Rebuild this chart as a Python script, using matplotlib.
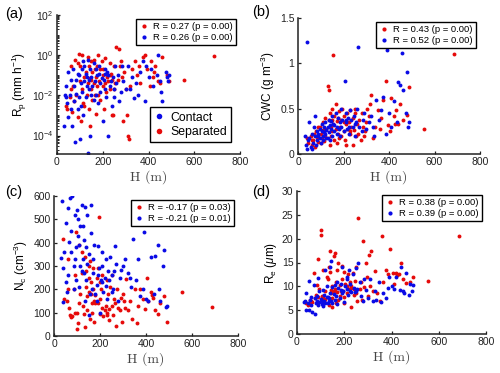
import math
import matplotlib
matplotlib.use("Agg")
import matplotlib.pyplot as plt
from matplotlib.lines import Line2D
from matplotlib.ticker import FixedLocator, FuncFormatter, LogLocator, NullFormatter

plt.rcParams['font.family'] = ['Liberation Sans', 'DejaVu Sans']
plt.rcParams['mathtext.fontset'] = 'custom'
plt.rcParams['mathtext.rm'] = 'Liberation Sans'
plt.rcParams['mathtext.it'] = 'Liberation Sans:italic'
plt.rcParams['mathtext.bf'] = 'Liberation Sans:bold'

# ---------------- data: Separated (red) ----------------
h_sep = [40, 45, 55, 60, 65, 70, 75, 80, 85, 90,
         95, 100, 100, 105, 110, 110, 115, 120, 125, 130,
         135, 135, 140, 140, 145, 145, 150, 150, 155, 155,
         160, 160, 165, 165, 170, 170, 175, 175, 180, 185,
         190, 190, 195, 200, 200, 205, 210, 210, 215, 220,
         225, 230, 230, 235, 240, 240, 245, 250, 255, 260,
         265, 270, 275, 280, 285, 290, 295, 300, 305, 310,
         315, 320, 330, 340, 350, 360, 365, 375, 385, 395,
         405, 410, 420, 425, 430, 440, 450, 460, 480, 490,
         555, 685, 60, 90, 120, 180, 200, 250, 150, 230]
rp_sep = [0.003, 0.002, 0.008, 0.3, 0.0015, 0.03, 0.005, 0.6, 0.01, 0.0008,
          1.2, 0.05, 0.3, 0.0005, 0.02, 1.0, 0.004, 0.08, 0.15, 0.01,
          0.04, 0.8, 0.002, 0.3, 0.07, 0.0003, 0.5, 0.02, 0.15, 0.006,
          0.04, 0.6, 0.01, 0.2, 0.0012, 0.08, 0.3, 0.03, 1.0, 0.05,
          0.2, 0.006, 0.5, 0.03, 0.1, 0.002, 0.04, 0.7, 0.015, 0.08,
          0.05, 0.4, 0.02, 0.12, 0.001, 0.06, 0.001, 0.3, 0.04, 2.5,
          0.06, 2.0, 0.3, 0.5, 0.08, 0.0005, 0.15, 0.02, 0.001, 0.0001,
          0.00007, 0.03, 0.2, 0.5, 0.1, 0.3, 0.04, 0.8, 1.0, 0.2,
          0.03, 0.5, 0.08, 0.15, 0.3, 0.05, 0.04, 0.8, 0.1, 0.05,
          0.06, 0.9, 0.02, 0.4, 0.003, 0.01, 0.2, 0.02, 0.06, 0.1]
cwc_sep = [0.18, 0.12, 0.2, 0.1, 0.15, 0.22, 0.08, 0.25, 0.19, 0.13,
           0.3, 0.12, 0.22, 0.18, 0.26, 0.35, 0.14, 0.2, 0.28, 0.75,
           0.71, 0.38, 0.1, 0.45, 0.3, 0.2, 0.5, 0.25, 1.09, 0.33,
           0.42, 0.15, 0.55, 0.28, 0.36, 0.12, 0.4, 0.22, 0.47, 0.3,
           0.38, 0.2, 0.5, 0.25, 0.42, 0.15, 0.33, 0.1, 0.45, 0.28,
           0.35, 0.48, 0.22, 0.3, 0.1, 0.4, 0.27, 0.5, 0.2, 0.33,
           0.22, 0.38, 0.15, 0.45, 0.3, 0.2, 0.25, 0.35, 0.5, 0.42,
           0.55, 0.65, 0.18, 0.3, 0.48, 0.28, 0.4, 0.6, 0.8, 0.32,
           0.25, 0.62, 0.42, 0.33, 0.48, 0.33, 0.55, 0.38, 0.43, 0.74,
           0.28, 1.1, 0.15, 0.3, 0.4, 0.18, 0.35, 0.45, 0.38, 0.25]
nc_sep = [415, 160, 150, 200, 120, 90, 80, 85, 200, 260,
          445, 30, 100, 55, 390, 140, 180, 270, 130, 95,
          340, 40, 280, 210, 170, 110, 250, 190, 75, 320,
          180, 230, 140, 100, 200, 290, 150, 60, 175, 250,
          140, 290, 510, 95, 160, 200, 120, 260, 85, 110,
          130, 100, 240, 180, 70, 115, 210, 260, 90, 160,
          140, 45, 200, 120, 110, 165, 60, 180, 150, 120,
          245, 110, 150, 75, 200, 55, 130, 200, 160, 115,
          250, 150, 190, 175, 165, 110, 95, 140, 170, 60,
          190, 125, 330, 100, 360, 140, 230, 130, 300, 90]
re_sep = [6.5, 6.0, 7.2, 7.0, 6.8, 12.8, 7.5, 8.2, 10.3, 15.8,
          9.5, 21.8, 20.7, 8.0, 7.5, 13.4, 7.0, 9.0, 12.0, 11.5,
          14.0, 6.0, 17.5, 13.0, 9.2, 8.5, 10.0, 5.7, 16.3, 9.0,
          17.0, 9.5, 11.0, 6.5, 13.5, 8.8, 14.8, 7.2, 10.2, 9.0,
          14.3, 11.5, 9.0, 7.8, 13.0, 10.5, 8.6, 10.0, 12.5, 9.5,
          11.0, 10.0, 5.7, 12.8, 8.2, 9.5, 11.2, 14.0, 7.0, 24.4,
          9.5, 11.0, 7.2, 19.6, 9.8, 15.0, 12.0, 8.0, 16.5, 10.0,
          17.4, 9.0, 13.3, 8.5, 7.0, 20.5, 11.0, 13.5, 12.5, 17.8,
          12.8, 10.4, 12.8, 12.3, 12.5, 15.0, 11.5, 10.8, 11.0, 12.0,
          11.2, 20.5, 6.8, 7.7, 7.4, 8.0, 6.5, 8.5, 7.6, 9.7]

# ---------------- data: Contact (blue) ----------------
h_con = [30, 35, 40, 40, 45, 50, 50, 55, 60, 65,
         70, 75, 75, 80, 85, 85, 90, 95, 95, 100,
         105, 105, 110, 110, 115, 120, 120, 125, 125, 130,
         135, 135, 140, 140, 145, 145, 150, 150, 155, 160,
         165, 170, 170, 175, 180, 185, 190, 190, 195, 200,
         205, 210, 210, 215, 220, 225, 225, 230, 235, 240,
         245, 250, 255, 260, 265, 270, 280, 285, 290, 300,
         310, 320, 330, 335, 345, 355, 365, 375, 385, 390,
         400, 410, 420, 435, 440, 450, 455, 460, 475, 480,
         485, 490, 60, 90, 115, 130, 160, 185, 210, 250]
rp_con = [0.0003, 0.01, 0.008, 0.03, 0.004, 0.0008, 0.15, 0.01, 0.002, 0.0003,
          0.2, 0.03, 0.005, 0.00005, 0.06, 0.012, 0.002, 0.1, 0.008, 0.00007,
          0.04, 0.003, 0.2, 0.015, 0.001, 0.3, 0.05, 0.008, 0.12, 0.03,
          0.000013, 0.6, 0.02, 0.06, 0.00009, 0.2, 0.01, 0.08, 0.03, 0.4,
          0.05, 0.2, 0.01, 0.1, 0.004, 0.3, 0.04, 0.015, 0.07, 0.0005,
          0.06, 0.12, 0.02, 0.008, 0.15, 0.0001, 0.1, 0.03, 0.05, 0.003,
          0.08, 0.02, 0.3, 0.04, 0.1, 0.005, 0.015, 0.3, 0.05, 0.02,
          0.3, 0.02, 0.08, 0.007, 0.04, 0.01, 0.15, 0.5, 0.005, 0.3,
          0.08, 0.2, 0.03, 0.1, 1.0, 0.05, 0.015, 0.005, 0.15, 0.08,
          0.05, 0.1, 0.06, 0.12, 0.5, 0.08, 0.006, 0.12, 0.2, 0.008]
cwc_con = [0.2, 0.1, 1.23, 0.05, 0.15, 0.18, 0.35, 0.08, 0.06, 0.12,
           0.3, 0.2, 0.42, 0.1, 0.25, 0.15, 0.22, 0.28, 0.18, 0.12,
           0.25, 0.33, 0.15, 0.2, 0.3, 0.22, 0.35, 0.18, 0.27, 0.3,
           0.38, 0.24, 0.32, 0.15, 0.28, 0.36, 0.2, 0.42, 0.33, 0.25,
           0.45, 0.3, 0.22, 0.4, 0.28, 0.35, 0.5, 0.3, 0.38, 0.25,
           0.81, 0.35, 0.45, 0.28, 0.4, 0.3, 0.22, 0.48, 0.38, 0.3,
           0.42, 0.2, 0.35, 0.5, 1.18, 0.3, 0.25, 0.38, 0.45, 0.28,
           0.35, 0.42, 0.3, 0.2, 0.6, 0.38, 0.48, 0.63, 0.22, 1.15,
           0.45, 0.3, 0.58, 0.35, 0.79, 0.76, 1.11, 0.71, 0.45, 0.9,
           0.3, 0.35, 0.22, 0.2, 0.24, 0.18, 0.32, 0.2, 0.38, 0.33]
nc_con = [335, 580, 145, 290, 360, 230, 485, 190, 550, 405,
          590, 450, 360, 600, 300, 200, 520, 380, 240, 540,
          500, 430, 210, 390, 470, 560, 280, 330, 470, 410,
          555, 150, 380, 240, 310, 520, 90, 350, 180, 440,
          200, 270, 330, 390, 180, 150, 385, 260, 290, 100,
          240, 360, 300, 190, 250, 215, 330, 160, 280, 240,
          340, 260, 200, 280, 385, 310, 150, 250, 285, 300,
          330, 270, 250, 210, 415, 240, 330, 170, 200, 445,
          160, 150, 340, 180, 345, 390, 200, 150, 300, 370,
          125, 130, 260, 330, 300, 270, 560, 220, 230, 190]
re_con = [6.8, 7.0, 5.0, 8.6, 6.5, 5.0, 11.2, 7.2, 6.0, 4.6,
          10.2, 4.1, 7.5, 6.5, 7.0, 8.0, 11.8, 6.8, 9.0, 7.3,
          6.2, 7.0, 9.2, 5.8, 8.1, 13.5, 6.5, 7.8, 10.0, 6.6,
          7.5, 6.9, 14.0, 8.5, 7.0, 15.4, 9.8, 6.5, 8.3, 7.2,
          8.0, 11.0, 6.3, 9.6, 7.5, 10.5, 14.0, 8.7, 9.0, 6.8,
          10.0, 9.4, 11.5, 8.2, 13.5, 9.0, 10.5, 8.8, 12.5, 9.6,
          8.8, 13.8, 9.5, 14.8, 11.0, 8.0, 7.0, 11.5, 9.2, 7.5,
          11.5, 7.0, 9.0, 7.2, 11.0, 6.8, 8.5, 7.5, 9.7, 12.0,
          10.0, 9.5, 12.0, 9.3, 14.0, 9.0, 8.5, 12.7, 8.2, 10.5,
          9.0, 10.3, 7.8, 6.0, 7.0, 7.7, 10.3, 9.2, 12.0, 9.0]

panel_labels = ['(a)', '(b)', '(c)', '(d)']
r_sep = ['R = 0.27 (p = 0.00)', 'R = 0.43 (p = 0.00)', 'R = -0.17 (p = 0.03)', 'R = 0.38 (p = 0.00)']
r_con = ['R = 0.26 (p = 0.00)', 'R = 0.52 (p = 0.00)', 'R = -0.21 (p = 0.01)', 'R = 0.39 (p = 0.00)']
ylabels = [r'R$_\mathrm{p}$ (mm h$^\mathrm{-1}$)', r'CWC (g m$^\mathrm{-3}$)',
           r'N$_\mathrm{c}$ (cm$^\mathrm{-3}$)', r'R$_\mathrm{e}$ ($\mu$m)']
x_ticks = [0, 200, 400, 600, 800]

RED = '#e60a0a'
BLUE = '#0a0ae6'

fig = plt.figure(figsize=(5.0, 3.73), dpi=100)
W, H = 500.0, 373.0
def box(l, t, r, b):
    return [l / W, 1 - b / H, (r - l) / W, (b - t) / H]

axes = [fig.add_axes(box(57, 15, 240, 154)),
        fig.add_axes(box(298, 18, 480, 154)),
        fig.add_axes(box(54, 196, 238, 336)),
        fig.add_axes(box(297, 191, 486, 334))]
label_pos = [(5, 14), (252, 12), (5, 192), (252, 192)]

ydata_sep = [rp_sep, cwc_sep, nc_sep, re_sep]
ydata_con = [rp_con, cwc_con, nc_con, re_con]

for i, ax in enumerate(axes):
    ax.plot(h_sep, ydata_sep[i], 'o', color=RED, ms=2.8, mew=0, ls='none')
    ax.plot(h_con, ydata_con[i], 'o', color=BLUE, ms=2.8, mew=0, ls='none')
    ax.set_xlim(0, 800)
    ax.set_xticks(x_ticks)
    for s in ['top', 'right']:
        ax.spines[s].set_visible(False)
    for s in ['left', 'bottom']:
        ax.spines[s].set_linewidth(1.1)
        ax.spines[s].set_color('#222222')
    ax.tick_params(direction='in', length=2, width=0.9, labelsize=7.5, pad=2.5, colors='#222222')
    ax.set_xlabel('H (m)', family='cmr10', fontsize=10, labelpad=2, color='#444444')
    ax.set_ylabel(ylabels[i], fontsize=8.5, labelpad=2)
    h1 = Line2D([], [], marker='o', color=RED, ls='none', ms=3, mew=0)
    h2 = Line2D([], [], marker='o', color=BLUE, ls='none', ms=3, mew=0)
    leg = ax.legend([h1, h2], [r_sep[i], r_con[i]], loc='upper right', fontsize=6.8,
                    frameon=True, fancybox=False, edgecolor='black', framealpha=1,
                    handlelength=1.0, handletextpad=0.5, borderpad=0.3, labelspacing=0.2,
                    borderaxespad=0.45)
    leg.get_frame().set_linewidth(1.0)
    fig.text(label_pos[i][0] / W, 1 - label_pos[i][1] / H, panel_labels[i],
             fontsize=10.5, ha='left', va='center')

# panel a: log scale
ax = axes[0]
ax.set_yscale('log')
ax.set_ylim(1.2e-5, 1e2)
ax.yaxis.set_major_locator(FixedLocator([1e-4, 1e-2, 1e0, 1e2]))
ax.yaxis.set_minor_locator(LogLocator(base=10, subs=range(1, 10), numticks=20))
ax.yaxis.set_minor_formatter(NullFormatter())
ax.yaxis.set_major_formatter(FuncFormatter(lambda v, p: r'$10^{%d}$' % round(math.log10(v))))
ax.tick_params(axis='y', which='minor', direction='in', length=1.2, width=0.6)
cl1 = Line2D([], [], marker='o', color=BLUE, ls='none', ms=4, mew=0)
cl2 = Line2D([], [], marker='o', color=RED, ls='none', ms=4, mew=0)
first = ax.get_legend()
leg2 = ax.legend([cl1, cl2], ['Contact', 'Separated'], loc='lower right', fontsize=8.8,
                 frameon=True, fancybox=False, edgecolor='black', framealpha=1,
                 handlelength=0.8, handletextpad=0.5, borderpad=0.35, labelspacing=0.2,
                 bbox_to_anchor=(0.985, 0.04))
leg2.get_frame().set_linewidth(1.0)
ax.add_artist(first)

axes[1].set_ylim(0, 1.5)
axes[1].set_yticks([0, 0.5, 1, 1.5])
axes[1].set_yticklabels(['0', '0.5', '1', '1.5'])
axes[2].set_ylim(0, 600)
axes[2].set_yticks([0, 100, 200, 300, 400, 500, 600])
axes[3].set_ylim(0, 30)
axes[3].set_yticks([0, 5, 10, 15, 20, 25, 30])

fig.savefig('out.png', dpi=100)
